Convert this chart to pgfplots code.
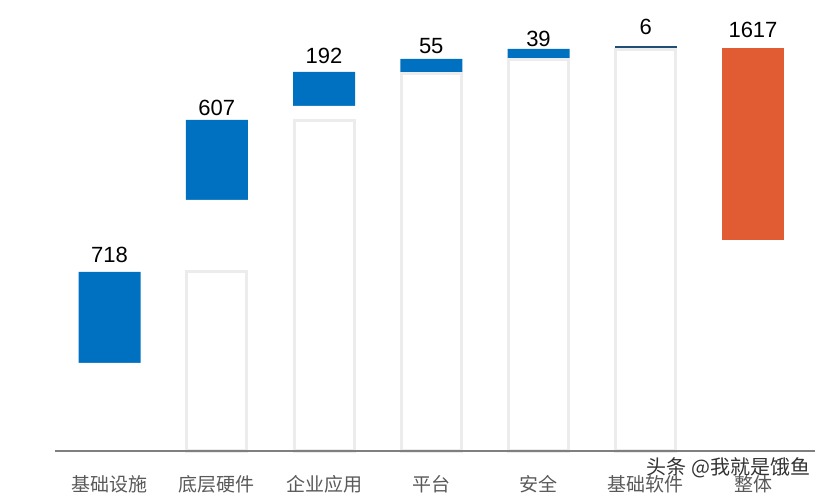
\documentclass[border=0pt]{standalone}
\usepackage{pgfplots}
\pgfplotsset{compat=1.18}
\usepackage{pgfplotstable}
\usepackage{fontspec}
\setmainfont{Liberation Sans}
\newfontfamily\cjk{Noto Sans CJK SC}

\definecolor{barblue}{HTML}{0070C0}
\definecolor{barnavy}{HTML}{1F4E79}
\definecolor{barorange}{HTML}{E15B33}
\definecolor{rimgray}{HTML}{ECECEC}
\definecolor{basegray}{HTML}{7F7F7F}
\definecolor{labgray}{HTML}{595959}

% waterfall segments: top and bottom of each step (chart units)
\pgfplotstableread{
x top bottom
0 179 88
1 331 251
2 379 345
3 392 378
4 402 392
}\steps
\pgfplotstableread{
x top bottom
5 404.5 402.5
}\thin
\pgfplotstableread{
x top bottom
6 403 211
}\total
% empty rims below each step
\pgfplotstableread{
x rim
1 179
2 330
3 377
4 391
5 401
}\rims
% value labels (centre of the digits)
\pgfplotstableread{
x y lab
0 196.5 718
1 343.5 607
2 395.5 192
3 404.5 55
4 412.5 39
5 424.5 6
6 421.5 1617
}\labels

\begin{document}
\begin{tikzpicture}
\begin{axis}[
    at={(0,0)}, anchor=south west,
    scale only axis,
    width=830bp, height=451bp,
    xmin=-1.021, xmax=6.718,
    ymin=0, ymax=451,
    clip=false,
    axis y line=none,
    axis x line*=bottom,
    x axis line style={-, basegray, line width=2bp, shorten <=55bp, shorten >=15bp},
    xtick={0,...,6},
    xticklabels={基础设施,底层硬件,企业应用,平台,安全,基础软件,整体},
    xticklabel style={font=\cjk\fontsize{19bp}{22bp}\selectfont, text=labgray,
        anchor=center, yshift=-33bp},
    major tick length=0pt,
    axis on top,
]
\addplot[ybar, bar width=62bp, bar shift=0pt, fill=barblue, draw=none]
    table[x=x, y=top] {\steps};
\addplot[ybar, bar width=62bp, bar shift=0pt, fill=barorange, draw=none]
    table[x=x, y=top] {\total};
% blank out below each floating segment
\addplot[ybar, bar width=64bp, bar shift=0pt, fill=white, draw=none]
    table[x=x, y=bottom] {\steps};
\addplot[ybar, bar width=64bp, bar shift=0pt, fill=white, draw=none]
    table[x=x, y=bottom] {\total};
\addplot[ybar, bar width=60bp, bar shift=0pt, fill=white, draw=rimgray, line width=3bp]
    table[x=x, y=rim] {\rims};
% the 6-unit step is a thin line on top of its rim
\addplot[ybar, bar width=62bp, bar shift=0pt, fill=barnavy, draw=none]
    table[x=x, y=top] {\thin};
\addplot[ybar, bar width=64bp, bar shift=0pt, fill=white, draw=none]
    table[x=x, y=bottom] {\thin};
\addplot[ybar, bar width=60bp, bar shift=0pt, fill=white, draw=rimgray, line width=3bp]
    table[x=x, y=rim] {\rims};
\addplot[draw=none, mark=none, nodes near coords, nodes near coords align={center},
    point meta=explicit symbolic,
    every node near coord/.append style={font=\fontsize{22bp}{25bp}\selectfont,
        text=black, inner sep=0pt}]
    table[x=x, y=y, meta=lab] {\labels};
\coordinate (wm) at (axis cs:5.77,-17);
\end{axis}
\node[text=black!80, font=\cjk\fontsize{20bp}{24bp}\selectfont] at (wm) {头条 @我就是饿鱼};
\pgfresetboundingbox
\path (0bp,-47bp) rectangle (830bp,451bp);
\end{tikzpicture}
\end{document}
